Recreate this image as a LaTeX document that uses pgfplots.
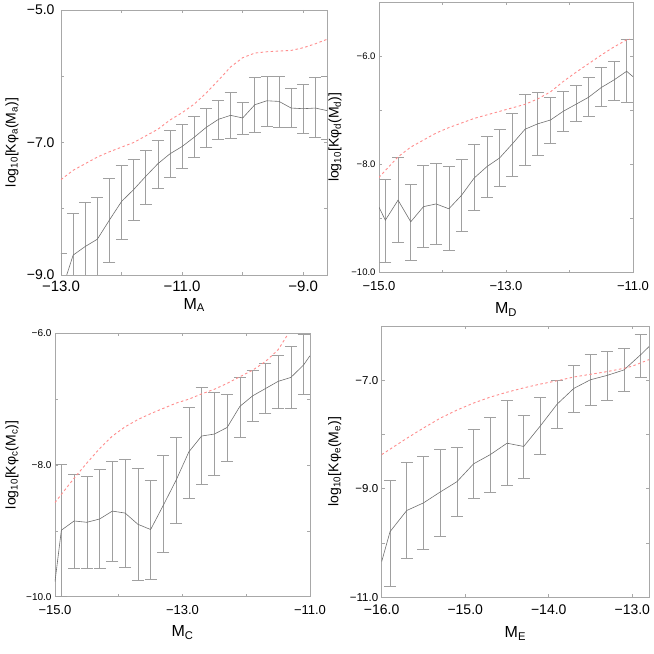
\documentclass[border=0pt]{standalone}
\usepackage{fontspec}
\setmainfont{Liberation Sans}
\usepackage{pgfplots}
\usepackage{pgfplotstable}
\pgfplotsset{compat=1.18}
\definecolor{axgray}{HTML}{A8A8A8}
\definecolor{linegray}{HTML}{707070}
\definecolor{bargray}{HTML}{A0A0A0}
\definecolor{redd}{HTML}{FF8C8C}

% ---------- Panel A ----------
\pgfplotstableread{
x y
-13.0 -9.27
-12.8 -8.70
-12.6 -8.57
-12.4 -8.46
-12.2 -8.17
-12.0 -7.89
-11.8 -7.71
-11.6 -7.51
-11.4 -7.32
-11.2 -7.17
-11.0 -7.06
-10.8 -6.92
-10.6 -6.77
-10.4 -6.65
-10.2 -6.59
-10.0 -6.63
-9.8 -6.43
-9.6 -6.37
-9.4 -6.38
-9.2 -6.48
-9.0 -6.49
-8.8 -6.48
-8.6 -6.52
}\lineA
\pgfplotstableread{
x y top bot
-13.0 -9.27 -8.67 -10.5
-12.8 -8.70 -8.07 -10.5
-12.6 -8.57 -7.90 -10.5
-12.4 -8.46 -7.83 -10.5
-12.2 -8.17 -7.54 -8.81
-12.0 -7.89 -7.34 -8.46
-11.8 -7.71 -7.25 -8.17
-11.6 -7.51 -7.12 -7.93
-11.4 -7.32 -6.97 -7.69
-11.2 -7.17 -6.82 -7.53
-11.0 -7.06 -6.73 -7.39
-10.8 -6.92 -6.61 -7.23
-10.6 -6.77 -6.49 -7.07
-10.4 -6.65 -6.37 -6.96
-10.2 -6.59 -6.24 -6.94
-10.0 -6.63 -6.39 -6.87
-9.8 -6.43 -6.02 -6.84
-9.6 -6.37 -6.00 -6.76
-9.4 -6.38 -6.00 -6.77
-9.2 -6.48 -6.19 -6.77
-9.0 -6.49 -6.12 -6.86
-8.8 -6.48 -6.01 -6.92
-8.6 -6.52 -6.00 -6.96
}\barsA
\pgfplotstableread{
x y
-13.0 -7.56
-12.8 -7.42
-12.6 -7.32
-12.4 -7.22
-12.2 -7.14
-12.0 -7.07
-11.8 -7.00
-11.6 -6.90
-11.4 -6.80
-11.2 -6.66
-11.0 -6.55
-10.8 -6.42
-10.6 -6.25
-10.4 -6.06
-10.2 -5.86
-10.0 -5.72
-9.8 -5.65
-9.6 -5.63
-9.4 -5.62
-9.2 -5.61
-9.0 -5.57
-8.8 -5.51
-8.6 -5.44
}\redA

% ---------- Panel B ----------
\pgfplotstableread{
x y
-15.0 -8.79
-14.9 -9.03
-14.7 -8.66
-14.5 -9.06
-14.3 -8.78
-14.1 -8.73
-13.9 -8.82
-13.7 -8.57
-13.5 -8.25
-13.3 -8.04
-13.1 -7.88
-12.9 -7.62
-12.7 -7.35
-12.5 -7.25
-12.3 -7.18
-12.1 -7.02
-11.9 -6.89
-11.7 -6.76
-11.5 -6.58
-11.3 -6.44
-11.1 -6.28
-11.0 -6.38
}\lineB
\pgfplotstableread{
x y top bot
-14.9 -9.03 -8.28 -9.80
-14.7 -8.66 -7.87 -9.44
-14.5 -9.06 -8.36 -9.78
-14.3 -8.78 -8.02 -9.54
-14.1 -8.73 -7.98 -9.48
-13.9 -8.82 -8.04 -9.59
-13.7 -8.57 -7.90 -9.23
-13.5 -8.25 -7.63 -8.85
-13.3 -8.04 -7.49 -8.61
-13.1 -7.88 -7.35 -8.40
-12.9 -7.62 -7.05 -8.22
-12.7 -7.35 -6.70 -8.02
-12.5 -7.25 -6.67 -7.83
-12.3 -7.18 -6.76 -7.61
-12.1 -7.02 -6.65 -7.38
-11.9 -6.89 -6.54 -7.21
-11.7 -6.76 -6.39 -7.11
-11.5 -6.58 -6.21 -6.93
-11.3 -6.44 -6.09 -6.81
-11.1 -6.28 -5.69 -6.86
}\barsB
\pgfplotstableread{
x y
-15.0 -8.24
-14.7 -7.86
-14.5 -7.68
-14.3 -7.55
-14.1 -7.42
-13.9 -7.32
-13.5 -7.15
-13.1 -7.02
-12.7 -6.89
-12.5 -6.79
-12.3 -6.66
-12.1 -6.47
-11.9 -6.30
-11.7 -6.14
-11.5 -5.98
-11.3 -5.83
-11.1 -5.70
-11.05 -5.69
}\redB

% ---------- Panel C ----------
\pgfplotstableread{
x y
-15.0 -9.77
-14.9 -8.99
-14.7 -8.85
-14.5 -8.87
-14.3 -8.82
-14.1 -8.70
-13.9 -8.73
-13.7 -8.90
-13.5 -8.98
-13.3 -8.61
-13.1 -8.23
-12.9 -7.80
-12.7 -7.56
-12.5 -7.53
-12.3 -7.43
-12.1 -7.11
-11.9 -6.95
-11.7 -6.84
-11.5 -6.73
-11.3 -6.67
-11.1 -6.48
-11.0 -6.34
}\lineC
\pgfplotstableread{
x y top bot
-14.9 -8.99 -7.99 -9.99
-14.7 -8.85 -8.14 -9.57
-14.5 -8.87 -8.17 -9.57
-14.3 -8.82 -8.07 -9.57
-14.1 -8.70 -7.94 -9.46
-13.9 -8.73 -7.91 -9.55
-13.7 -8.90 -8.05 -9.75
-13.5 -8.98 -8.23 -9.73
-13.3 -8.61 -7.86 -9.32
-13.1 -8.23 -7.58 -8.88
-12.9 -7.80 -7.12 -8.50
-12.7 -7.56 -6.82 -8.30
-12.5 -7.53 -6.89 -8.16
-12.3 -7.43 -6.92 -7.94
-12.1 -7.11 -6.67 -7.58
-11.9 -6.95 -6.57 -7.33
-11.7 -6.84 -6.46 -7.22
-11.5 -6.73 -6.33 -7.14
-11.3 -6.67 -6.20 -7.14
-11.1 -6.48 -6.01 -6.92
}\barsC
\pgfplotstableread{
x y
-15.0 -8.57
-14.7 -8.20
-14.5 -7.97
-14.3 -7.75
-14.1 -7.56
-13.9 -7.42
-13.7 -7.31
-13.5 -7.22
-13.3 -7.14
-13.1 -7.06
-12.9 -7.00
-12.7 -6.92
-12.5 -6.85
-12.3 -6.76
-12.1 -6.66
-11.9 -6.56
-11.7 -6.43
-11.5 -6.25
-11.35 -6.02
}\redC

% ---------- Panel D ----------
\pgfplotstableread{
x y
-16.0 -10.34
-15.9 -9.79
-15.7 -9.40
-15.5 -9.26
-15.3 -9.06
-15.1 -8.87
-14.9 -8.54
-14.7 -8.37
-14.5 -8.16
-14.3 -8.22
-14.1 -7.84
-13.9 -7.44
-13.7 -7.15
-13.5 -6.99
-13.3 -6.91
-13.1 -6.81
-12.9 -6.53
-12.8 -6.38
}\lineD
\pgfplotstableread{
x y top bot
-15.9 -9.79 -8.84 -10.79
-15.7 -9.40 -8.51 -10.29
-15.5 -9.26 -8.41 -10.12
-15.3 -9.06 -8.28 -9.88
-15.1 -8.87 -8.23 -9.50
-14.9 -8.54 -7.90 -9.17
-14.7 -8.37 -7.68 -9.06
-14.5 -8.16 -7.37 -8.94
-14.3 -8.22 -7.64 -8.80
-14.1 -7.84 -7.32 -8.37
-13.9 -7.44 -7.01 -7.88
-13.7 -7.15 -6.72 -7.59
-13.5 -6.99 -6.52 -7.47
-13.3 -6.91 -6.46 -7.37
-13.1 -6.81 -6.42 -7.20
-12.9 -6.53 -6.15 -6.94
}\barsD
\pgfplotstableread{
x y
-16.0 -8.37
-15.7 -8.07
-15.5 -7.88
-15.3 -7.70
-15.1 -7.55
-14.9 -7.42
-14.7 -7.31
-14.5 -7.22
-14.3 -7.14
-14.1 -7.07
-13.9 -7.01
-13.7 -6.94
-13.5 -6.89
-13.3 -6.84
-13.1 -6.78
-13.0 -6.74
-12.8 -6.62
}\redD

\pgfplotsset{
  panel/.style={
    scale only axis,
    anchor=south west,
    axis line style={axgray, line width=0.7pt},
    every tick/.style={axgray, line width=0.6pt},
    tick align=inside,
    major tick length=3pt,
    minor tick length=3pt,
    xticklabel style={yshift=-2pt},
    xlabel style={anchor=center, font=\fontsize{16}{16}\selectfont},
    ylabel style={anchor=center, font=\fontsize{14}{14}\selectfont},
  },
  mainline/.style={linegray, line width=0.6pt, mark=none},
  redline/.style={redd, line width=0.9pt, dash pattern=on 2.5pt off 2.5pt, mark=none},
  bars/.style={draw=none, mark=none, forget plot,
    error bars/.cd, y dir=both, y explicit,
    error bar style={bargray, line width=0.7pt, solid},
    error mark options={rotate=90, bargray, mark size=6pt, line width=0.7pt, solid}},
}

\begin{document}
\begin{tikzpicture}
\path[use as bounding box] (0pt,0pt) rectangle (654pt,654pt);

% Panel A
\begin{axis}[panel,
  at={(61pt,379pt)}, width=266.5pt, height=265pt,
  xmin=-13, xmax=-8.6, ymin=-9, ymax=-5,
  xtick={-13,-11,-9}, xticklabels={−13.0,−11.0,−9.0},
  minor xtick={-12,-10},
  ytick={-9,-7,-5}, yticklabels={−9.0,−7.0,−5.0},
  minor ytick={-8,-6},
  xticklabel style={font=\fontsize{15}{15}\selectfont},
  yticklabel style={font=\fontsize{14}{14}\selectfont, xshift=-3pt},
  xlabel={M\textsubscript{A}},
  ylabel={log\textsubscript{10}[Kφ\textsubscript{a}(M\textsubscript{a})]},
  xlabel style={at={(axis description cs:0.5,-0.113)}},
  ylabel style={at={(axis description cs:-0.184,0.5)}},
]
\addplot[bars] table[x=x, y=y, y error plus expr=\thisrow{top}-\thisrow{y}, y error minus expr=\thisrow{y}-\thisrow{bot}] {\barsA};
\addplot[mainline] table[x=x, y=y] {\lineA};
\addplot[redline] table[x=x, y=y] {\redA};
\end{axis}

% Panel B
\begin{axis}[panel,
  at={(379pt,381.3pt)}, width=254pt, height=270.7pt,
  xmin=-15, xmax=-11, ymin=-10, ymax=-5,
  xtick={-15,-13,-11}, xticklabels={−15.0,−13.0,−11.0},
  minor xtick={-14,-12},
  ytick={-10,-8,-6}, yticklabels={−10.0,−8.0,−6.0},
  minor ytick={-9,-7},
  xticklabel style={font=\fontsize{13}{13}\selectfont, yshift=-3pt},
  yticklabel style={font=\fontsize{9.5}{9.5}\selectfont},
  xlabel={M\textsubscript{D}},
  ylabel={log\textsubscript{10}[Kφ\textsubscript{d}(M\textsubscript{d})]},
  xlabel style={at={(axis description cs:0.5,-0.137)}},
  ylabel style={at={(axis description cs:-0.173,0.5)}},
]
\addplot[bars] table[x=x, y=y, y error plus expr=\thisrow{top}-\thisrow{y}, y error minus expr=\thisrow{y}-\thisrow{bot}] {\barsB};
\addplot[mainline] table[x=x, y=y] {\lineB};
\addplot[redline] table[x=x, y=y] {\redB};
\end{axis}

% Panel C
\begin{axis}[panel,
  at={(55pt,57.3pt)}, width=255pt, height=263.4pt,
  xmin=-15, xmax=-11, ymin=-10, ymax=-6,
  xtick={-15,-13,-11}, xticklabels={−15.0,−13.0,−11.0},
  minor xtick={-14,-12},
  ytick={-10,-8,-6}, yticklabels={−10.0,−8.0,−6.0},
  minor ytick={-9,-7},
  xticklabel style={font=\fontsize{13}{13}\selectfont, yshift=-3pt},
  yticklabel style={font=\fontsize{10}{10}\selectfont},
  xlabel={M\textsubscript{C}},
  ylabel={log\textsubscript{10}[Kφ\textsubscript{c}(M\textsubscript{c})]},
  xlabel style={at={(axis description cs:0.5,-0.137)}},
  ylabel style={at={(axis description cs:-0.169,0.5)}},
]
\addplot[bars] table[x=x, y=y, y error plus expr=\thisrow{top}-\thisrow{y}, y error minus expr=\thisrow{y}-\thisrow{bot}] {\barsC};
\addplot[mainline] table[x=x, y=y] {\lineC};
\addplot[redline] table[x=x, y=y] {\redC};
\end{axis}

% Panel D
\begin{axis}[panel,
  at={(381.7pt,56.7pt)}, width=267.3pt, height=271.3pt,
  xmin=-16, xmax=-12.8, ymin=-11, ymax=-6,
  xtick={-16,-15,-14,-13}, xticklabels={−16.0,−15.0,−14.0,−13.0},
  ytick={-11,-9,-7}, yticklabels={−11.0,−9.0,−7.0},
  minor ytick={-10,-8},
  xticklabel style={font=\fontsize{14}{14}\selectfont, yshift=-2pt},
  yticklabel style={font=\fontsize{11.5}{11.5}\selectfont},
  xlabel={M\textsubscript{E}},
  ylabel={log\textsubscript{10}[Kφ\textsubscript{e}(M\textsubscript{e})]},
  xlabel style={at={(axis description cs:0.5,-0.133)}},
  ylabel style={at={(axis description cs:-0.176,0.5)}},
]
\addplot[bars] table[x=x, y=y, y error plus expr=\thisrow{top}-\thisrow{y}, y error minus expr=\thisrow{y}-\thisrow{bot}] {\barsD};
\addplot[mainline] table[x=x, y=y] {\lineD};
\addplot[redline] table[x=x, y=y] {\redD};
\end{axis}
\end{tikzpicture}
\end{document}
